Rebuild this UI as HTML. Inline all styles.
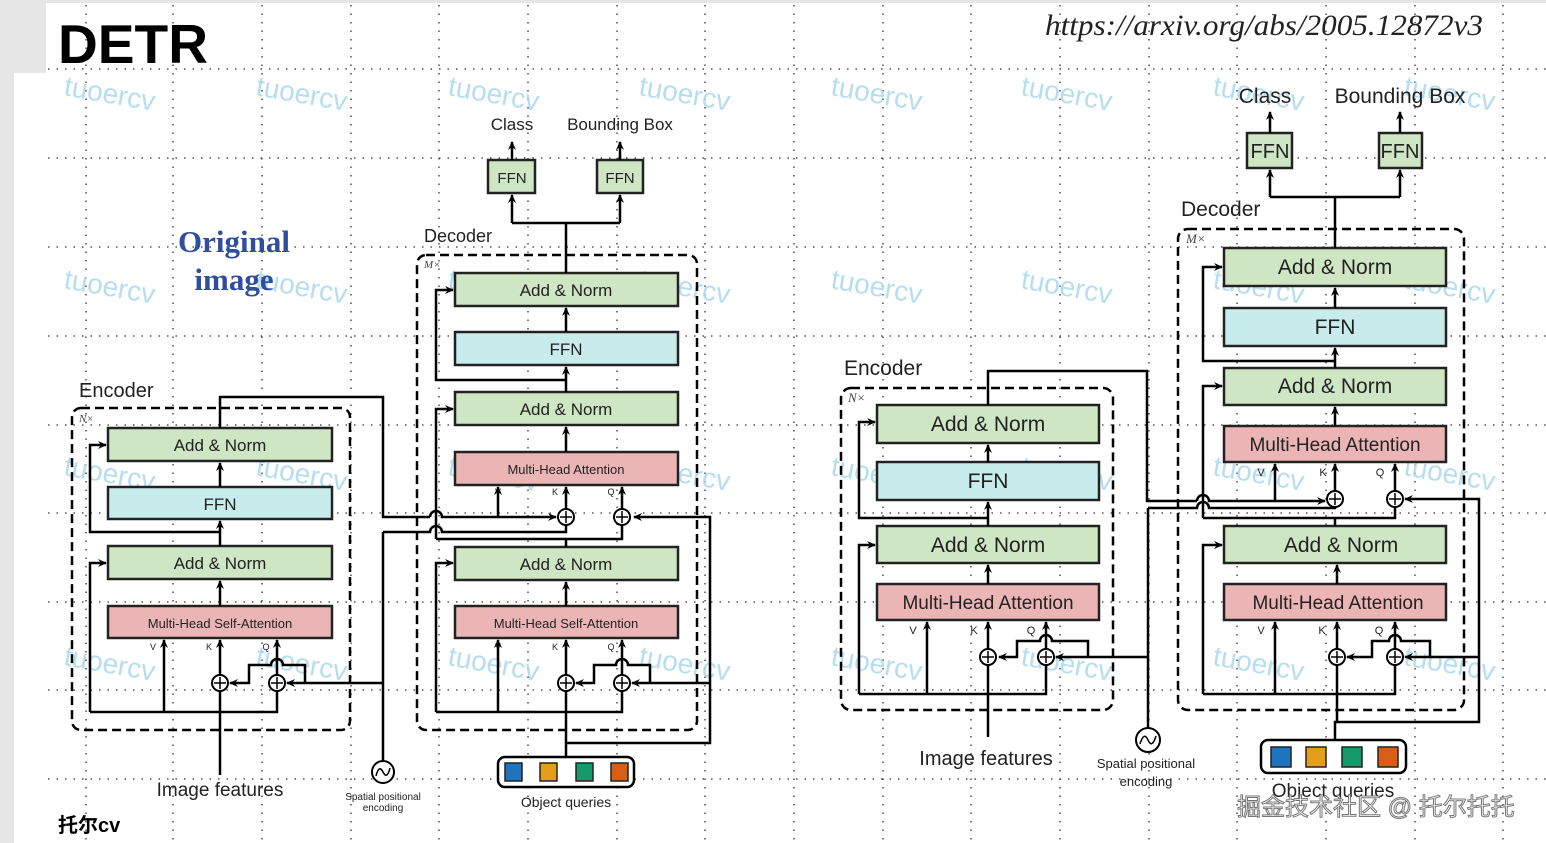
<!DOCTYPE html>
<html><head><meta charset="utf-8"><style>
html,body{margin:0;padding:0;background:#fff;}
svg{display:block;}
text{font-family:"Liberation Sans","DejaVu Sans",sans-serif;}
text.serif{font-family:"Liberation Serif",serif;}
</style></head><body>
<svg width="1546" height="843" viewBox="0 0 1546 843" xmlns="http://www.w3.org/2000/svg">
<defs>
<marker id="a" markerWidth="10" markerHeight="10" refX="8" refY="4" orient="auto" markerUnits="userSpaceOnUse"><path d="M0,0 L9,4 L0,8 L3,4 z" fill="#000"/></marker>
</defs>
<rect x="0" y="0" width="1546" height="843" fill="#fff"/>
<rect x="0" y="0" width="1546" height="3" fill="#e6e6e6"/>
<rect x="0" y="0" width="46" height="73" fill="#e6e6e6"/>
<rect x="0" y="73" width="14" height="770" fill="#e6e6e6"/>
<g stroke="#333" stroke-width="1.3" stroke-dasharray="1.5 7">
<line x1="48" y1="69" x2="1546" y2="69"/><line x1="48" y1="158" x2="1546" y2="158"/><line x1="48" y1="247" x2="1546" y2="247"/><line x1="48" y1="336" x2="1546" y2="336"/><line x1="48" y1="425" x2="1546" y2="425"/><line x1="48" y1="513" x2="1546" y2="513"/><line x1="48" y1="602" x2="1546" y2="602"/><line x1="48" y1="690" x2="1546" y2="690"/><line x1="48" y1="779" x2="1546" y2="779"/>
<line x1="86" y1="5" x2="86" y2="843"/><line x1="173" y1="5" x2="173" y2="843"/><line x1="262" y1="5" x2="262" y2="843"/><line x1="351" y1="5" x2="351" y2="843"/><line x1="439" y1="5" x2="439" y2="843"/><line x1="528" y1="5" x2="528" y2="843"/><line x1="617" y1="5" x2="617" y2="843"/><line x1="705" y1="5" x2="705" y2="843"/><line x1="794" y1="5" x2="794" y2="843"/><line x1="883" y1="5" x2="883" y2="843"/><line x1="971" y1="5" x2="971" y2="843"/><line x1="1060" y1="5" x2="1060" y2="843"/><line x1="1149" y1="5" x2="1149" y2="843"/><line x1="1237" y1="5" x2="1237" y2="843"/><line x1="1326" y1="5" x2="1326" y2="843"/><line x1="1415" y1="5" x2="1415" y2="843"/><line x1="1503" y1="5" x2="1503" y2="843"/>
</g>
<g fill="#a9d8ee" font-size="28" opacity="0.85">
<text transform="translate(63,95) rotate(10)">tuoercv</text><text transform="translate(255,95) rotate(10)">tuoercv</text><text transform="translate(447,95) rotate(10)">tuoercv</text><text transform="translate(638,95) rotate(10)">tuoercv</text><text transform="translate(830,95) rotate(10)">tuoercv</text><text transform="translate(1020,95) rotate(10)">tuoercv</text><text transform="translate(1212,95) rotate(10)">tuoercv</text><text transform="translate(1403,95) rotate(10)">tuoercv</text>
<text transform="translate(63,288) rotate(10)">tuoercv</text><text transform="translate(255,288) rotate(10)">tuoercv</text><text transform="translate(447,288) rotate(10)">tuoercv</text><text transform="translate(638,288) rotate(10)">tuoercv</text><text transform="translate(830,288) rotate(10)">tuoercv</text><text transform="translate(1020,288) rotate(10)">tuoercv</text><text transform="translate(1212,288) rotate(10)">tuoercv</text><text transform="translate(1403,288) rotate(10)">tuoercv</text>
<text transform="translate(63,475) rotate(10)">tuoercv</text><text transform="translate(255,475) rotate(10)">tuoercv</text><text transform="translate(447,475) rotate(10)">tuoercv</text><text transform="translate(638,475) rotate(10)">tuoercv</text><text transform="translate(830,475) rotate(10)">tuoercv</text><text transform="translate(1020,475) rotate(10)">tuoercv</text><text transform="translate(1212,475) rotate(10)">tuoercv</text><text transform="translate(1403,475) rotate(10)">tuoercv</text>
<text transform="translate(63,665) rotate(10)">tuoercv</text><text transform="translate(255,665) rotate(10)">tuoercv</text><text transform="translate(447,665) rotate(10)">tuoercv</text><text transform="translate(638,665) rotate(10)">tuoercv</text><text transform="translate(830,665) rotate(10)">tuoercv</text><text transform="translate(1020,665) rotate(10)">tuoercv</text><text transform="translate(1212,665) rotate(10)">tuoercv</text><text transform="translate(1403,665) rotate(10)">tuoercv</text>
</g>
<text x="58" y="63" font-size="55" font-weight="bold" fill="#000" textLength="150" lengthAdjust="spacingAndGlyphs">DETR</text>
<text class="serif" x="1045" y="35" font-size="30" font-style="italic" fill="#222" textLength="438" lengthAdjust="spacingAndGlyphs">https://arxiv.org/abs/2005.12872v3</text>
<g fill="#2f4f9e" font-size="31" font-weight="bold" text-anchor="middle">
<text class="serif" x="234" y="252">Original</text><text class="serif" x="234" y="290">image</text></g>

<!-- LEFT -->
<g stroke="#000" stroke-width="2.5" fill="none" stroke-dasharray="9 5">
<rect x="72" y="408" width="278" height="322" rx="9"/>
<rect x="417" y="255" width="280" height="475" rx="9"/>
</g>
<g font-size="11" font-style="italic" fill="#444"><text class="serif" x="79" y="422">N×</text><text class="serif" x="424" y="268">M×</text></g>
<text x="79" y="397" font-size="20" fill="#222">Encoder</text>
<text x="424" y="242" font-size="18" fill="#222">Decoder</text>
<g stroke="#222" stroke-width="2.5">
<rect x="108" y="428" width="224" height="33" fill="#cfe6c4"/>
<rect x="108" y="487" width="224" height="32" fill="#c8ecec"/>
<rect x="108" y="546" width="224" height="33" fill="#cfe6c4"/>
<rect x="108" y="606" width="224" height="32" fill="#ebb5b5"/>
<rect x="455" y="273" width="223" height="33" fill="#cfe6c4"/>
<rect x="455" y="332" width="223" height="33" fill="#c8ecec"/>
<rect x="455" y="392" width="223" height="33" fill="#cfe6c4"/>
<rect x="455" y="452" width="223" height="33" fill="#ebb5b5"/>
<rect x="455" y="547" width="223" height="33" fill="#cfe6c4"/>
<rect x="455" y="606" width="223" height="32" fill="#ebb5b5"/>
<rect x="488" y="160" width="47" height="33" fill="#cfe6c4"/>
<rect x="597" y="160" width="46" height="33" fill="#cfe6c4"/>
</g>
<g font-size="17" fill="#222" text-anchor="middle">
<text x="220" y="451">Add &amp; Norm</text><text x="220" y="510">FFN</text><text x="220" y="569">Add &amp; Norm</text>
<text x="220" y="628" font-size="13">Multi-Head Self-Attention</text>
<text x="566" y="296">Add &amp; Norm</text><text x="566" y="355">FFN</text><text x="566" y="415">Add &amp; Norm</text>
<text x="566" y="474" font-size="13">Multi-Head Attention</text>
<text x="566" y="570">Add &amp; Norm</text>
<text x="566" y="628" font-size="13">Multi-Head Self-Attention</text>
<text x="512" y="183" font-size="15">FFN</text><text x="620" y="183" font-size="15">FFN</text>
<text x="512" y="130">Class</text><text x="620" y="130">Bounding Box</text>
<text x="220" y="796" font-size="19">Image features</text>
<text x="566" y="807" font-size="14">Object queries</text>
<text x="383" y="800" font-size="10">Spatial positional</text><text x="383" y="811" font-size="10">encoding</text>
</g>
<g font-size="9" fill="#222" text-anchor="middle">
<text x="153" y="650">V</text><text x="209" y="650">K</text><text x="266" y="650">Q</text>
<text x="498" y="650">V</text><text x="555" y="650">K</text><text x="611" y="650">Q</text>
<text x="498" y="495">V</text><text x="555" y="495">K</text><text x="611" y="495">Q</text>
</g>
<g stroke="#000" stroke-width="2.5" fill="none">
<line x1="220" y1="606" x2="220" y2="581" marker-end="url(#a)"/>
<line x1="220" y1="546" x2="220" y2="521" marker-end="url(#a)"/>
<line x1="220" y1="487" x2="220" y2="463" marker-end="url(#a)"/>
<polyline points="220,532 90,532 90,445 106,445" marker-end="url(#a)"/>
<polyline points="90,712 90,563 106,563" marker-end="url(#a)"/>
<line x1="220" y1="775" x2="220" y2="691"/>
<line x1="220" y1="675" x2="220" y2="640" marker-end="url(#a)"/>
<line x1="164" y1="712" x2="164" y2="640" marker-end="url(#a)"/>
<polyline points="90,712 277,712 277,691"/>
<line x1="277" y1="675" x2="277" y2="640" marker-end="url(#a)"/>
<path d="M305,683 L305,665 L283,665 A6,6 0 0 0 271,665 L249,665 L249,683 L230,683" marker-end="url(#a)"/>
<line x1="383" y1="683" x2="287" y2="683" marker-end="url(#a)"/>
<line x1="383" y1="761" x2="383" y2="532"/>
<polyline points="220,428 220,397 383,397 383,517 430,517"/>
<path d="M430,517 A6,6 0 0 1 442,517 L556,517" marker-end="url(#a)"/>
<path d="M383,532 L430,532 A6,6 0 0 1 442,532 L566,532 L566,525"/>
<polyline points="566,547 566,539"/>
<polyline points="436,539 622,539 622,525"/>
<line x1="498" y1="517" x2="498" y2="487" marker-end="url(#a)"/>
<line x1="566" y1="509" x2="566" y2="487" marker-end="url(#a)"/>
<line x1="622" y1="509" x2="622" y2="487" marker-end="url(#a)"/>
<line x1="566" y1="452" x2="566" y2="427" marker-end="url(#a)"/>
<line x1="566" y1="392" x2="566" y2="367" marker-end="url(#a)"/>
<line x1="566" y1="332" x2="566" y2="308" marker-end="url(#a)"/>
<polyline points="566,380 436,380 436,290 453,290" marker-end="url(#a)"/>
<polyline points="436,539 436,409 453,409" marker-end="url(#a)"/>
<polyline points="566,273 566,223"/>
<polyline points="512,223 620,223"/>
<line x1="512" y1="223" x2="512" y2="195" marker-end="url(#a)"/>
<line x1="620" y1="223" x2="620" y2="195" marker-end="url(#a)"/>
<line x1="512" y1="160" x2="512" y2="142" marker-end="url(#a)"/>
<line x1="620" y1="160" x2="620" y2="142" marker-end="url(#a)"/>
<line x1="566" y1="606" x2="566" y2="582" marker-end="url(#a)"/>
<polyline points="436,712 436,563 453,563" marker-end="url(#a)"/>
<polyline points="436,712 622,712 622,691"/>
<line x1="498" y1="712" x2="498" y2="640" marker-end="url(#a)"/>
<line x1="566" y1="675" x2="566" y2="640" marker-end="url(#a)"/>
<line x1="622" y1="675" x2="622" y2="640" marker-end="url(#a)"/>
<polyline points="566,757 566,743 710,743 710,517 634,517" marker-end="url(#a)"/>
<line x1="710" y1="683" x2="632" y2="683" marker-end="url(#a)"/>
<line x1="566" y1="743" x2="566" y2="691"/>
<path d="M650,683 L650,665 L628,665 A6,6 0 0 0 616,665 L594,665 L594,683 L576,683" marker-end="url(#a)"/>
</g>
<g stroke="#000" stroke-width="2" fill="#fff">
<circle cx="220" cy="683" r="8"/><circle cx="277" cy="683" r="8"/>
<circle cx="566" cy="683" r="8"/><circle cx="622" cy="683" r="8"/>
<circle cx="566" cy="517" r="8"/><circle cx="622" cy="517" r="8"/>
<circle cx="383" cy="772" r="11"/>
</g>
<g stroke="#000" stroke-width="1.5" fill="none">
<path d="M220,677v12M214,683h12M277,677v12M271,683h12M566,677v12M560,683h12M622,677v12M616,683h12M566,511v12M560,517h12M622,511v12M616,517h12"/>
<path d="M376,776 Q379,764 383,772 Q387,780 390,768"/>
</g>
<rect x="498" y="757" width="136" height="30" rx="7" fill="#fff" stroke="#000" stroke-width="2.5"/>
<g stroke="#222" stroke-width="1.5"><rect x="505" y="763" width="17" height="18" fill="#1f74c0"/><rect x="540" y="763" width="17" height="18" fill="#e69d1c"/><rect x="576" y="763" width="17" height="18" fill="#18996a"/><rect x="611" y="763" width="17" height="18" fill="#d85e15"/></g>

<!-- RIGHT -->
<g stroke="#000" stroke-width="2.5" fill="none" stroke-dasharray="9 5">
<rect x="841" y="388" width="272" height="322" rx="10"/>
<rect x="1178" y="229" width="286" height="481" rx="10"/>
</g>
<g font-size="13" font-style="italic" fill="#444"><text class="serif" x="848" y="402">N×</text><text class="serif" x="1186" y="243">M×</text></g>
<text x="844" y="375" font-size="21" fill="#222">Encoder</text>
<text x="1181" y="216" font-size="21" fill="#222">Decoder</text>
<g stroke="#222" stroke-width="2.5">
<rect x="877" y="405" width="222" height="38" fill="#cfe6c4"/>
<rect x="877" y="462" width="222" height="38" fill="#c8ecec"/>
<rect x="877" y="526" width="222" height="37" fill="#cfe6c4"/>
<rect x="877" y="584" width="222" height="36" fill="#ebb5b5"/>
<rect x="1224" y="248" width="222" height="38" fill="#cfe6c4"/>
<rect x="1224" y="308" width="222" height="38" fill="#c8ecec"/>
<rect x="1224" y="368" width="222" height="37" fill="#cfe6c4"/>
<rect x="1224" y="426" width="222" height="36" fill="#ebb5b5"/>
<rect x="1224" y="526" width="222" height="37" fill="#cfe6c4"/>
<rect x="1224" y="584" width="222" height="36" fill="#ebb5b5"/>
<rect x="1247" y="133" width="45" height="35" fill="#cfe6c4"/>
<rect x="1379" y="133" width="43" height="35" fill="#cfe6c4"/>
</g>
<g font-size="21" fill="#222" text-anchor="middle">
<text x="988" y="431">Add &amp; Norm</text><text x="988" y="488">FFN</text><text x="988" y="552">Add &amp; Norm</text>
<text x="988" y="609" font-size="19">Multi-Head Attention</text>
<text x="1335" y="274">Add &amp; Norm</text><text x="1335" y="334">FFN</text><text x="1335" y="393">Add &amp; Norm</text>
<text x="1335" y="451" font-size="19">Multi-Head Attention</text>
<text x="1341" y="552">Add &amp; Norm</text>
<text x="1338" y="609" font-size="19">Multi-Head Attention</text>
<text x="1270" y="158" font-size="20">FFN</text><text x="1400" y="158" font-size="20">FFN</text>
<text x="1265" y="103">Class</text><text x="1400" y="103">Bounding Box</text>
<text x="986" y="765" font-size="20">Image features</text>
<text x="1333" y="797" font-size="19">Object queries</text>
<text x="1146" y="768" font-size="13">Spatial positional</text><text x="1146" y="786" font-size="13">encoding</text>
</g>
<g font-size="11" fill="#222" text-anchor="middle">
<text x="913" y="634">V</text><text x="974" y="634">K</text><text x="1031" y="634">Q</text>
<text x="1261" y="476">V</text><text x="1323" y="476">K</text><text x="1380" y="476">Q</text>
<text x="1261" y="634">V</text><text x="1322" y="634">K</text><text x="1379" y="634">Q</text>
</g>
<g stroke="#000" stroke-width="2.5" fill="none">
<line x1="988" y1="584" x2="988" y2="565" marker-end="url(#a)"/>
<line x1="988" y1="526" x2="988" y2="502" marker-end="url(#a)"/>
<line x1="988" y1="462" x2="988" y2="445" marker-end="url(#a)"/>
<polyline points="988,518 859,518 859,422 875,422" marker-end="url(#a)"/>
<polyline points="859,694 859,545 875,545" marker-end="url(#a)"/>
<line x1="988" y1="737" x2="988" y2="665"/>
<line x1="988" y1="649" x2="988" y2="622" marker-end="url(#a)"/>
<line x1="927" y1="694" x2="927" y2="622" marker-end="url(#a)"/>
<polyline points="859,694 1046,694 1046,665"/>
<line x1="1046" y1="649" x2="1046" y2="622" marker-end="url(#a)"/>
<path d="M1088,657 L1088,641 L1052,641 A6,6 0 0 0 1040,641 L1017,641 L1017,657 L999,657" marker-end="url(#a)"/>
<line x1="1148" y1="657" x2="1056" y2="657" marker-end="url(#a)"/>
<line x1="1148" y1="729" x2="1148" y2="508"/>
<polyline points="988,405 988,371 1147,371 1147,501 1197,501"/>
<path d="M1197,501 A6,6 0 0 1 1209,501 L1325,501" marker-end="url(#a)"/>
<path d="M1148,508 L1197,508 A6,6 0 0 1 1209,508 L1335,508 L1335,507"/>
<polyline points="1203,518 1395,518 1395,507"/>
<line x1="1335" y1="526" x2="1335" y2="518"/>
<line x1="1275" y1="501" x2="1275" y2="464" marker-end="url(#a)"/>
<line x1="1335" y1="491" x2="1335" y2="464" marker-end="url(#a)"/>
<line x1="1395" y1="491" x2="1395" y2="464" marker-end="url(#a)"/>
<line x1="1335" y1="426" x2="1335" y2="407" marker-end="url(#a)"/>
<line x1="1335" y1="368" x2="1335" y2="348" marker-end="url(#a)"/>
<line x1="1335" y1="308" x2="1335" y2="288" marker-end="url(#a)"/>
<polyline points="1335,361 1203,361 1203,267 1222,267" marker-end="url(#a)"/>
<polyline points="1203,518 1203,386 1222,386" marker-end="url(#a)"/>
<polyline points="1335,248 1335,197"/>
<polyline points="1270,197 1400,197"/>
<line x1="1270" y1="197" x2="1270" y2="170" marker-end="url(#a)"/>
<line x1="1400" y1="197" x2="1400" y2="170" marker-end="url(#a)"/>
<line x1="1270" y1="133" x2="1270" y2="112" marker-end="url(#a)"/>
<line x1="1400" y1="133" x2="1400" y2="112" marker-end="url(#a)"/>
<line x1="1337" y1="584" x2="1337" y2="565" marker-end="url(#a)"/>
<polyline points="1203,694 1203,545 1222,545" marker-end="url(#a)"/>
<polyline points="1203,694 1395,694 1395,665"/>
<line x1="1275" y1="694" x2="1275" y2="622" marker-end="url(#a)"/>
<line x1="1337" y1="649" x2="1337" y2="622" marker-end="url(#a)"/>
<line x1="1395" y1="649" x2="1395" y2="622" marker-end="url(#a)"/>
<polyline points="1335,740 1335,722 1479,722 1479,499 1405,499" marker-end="url(#a)"/>
<line x1="1479" y1="657" x2="1405" y2="657" marker-end="url(#a)"/>
<line x1="1337" y1="722" x2="1337" y2="665"/>
<path d="M1430,657 L1430,641 L1401,641 A6,6 0 0 0 1389,641 L1372,641 L1372,657 L1347,657" marker-end="url(#a)"/>
</g>
<g stroke="#000" stroke-width="2" fill="#fff">
<circle cx="988" cy="657" r="8"/><circle cx="1046" cy="657" r="8"/>
<circle cx="1337" cy="657" r="8"/><circle cx="1395" cy="657" r="8"/>
<circle cx="1335" cy="499" r="8"/><circle cx="1395" cy="499" r="8"/>
<circle cx="1148" cy="740" r="12"/>
</g>
<g stroke="#000" stroke-width="1.5" fill="none">
<path d="M988,651v12M982,657h12M1046,651v12M1040,657h12M1337,651v12M1331,657h12M1395,651v12M1389,657h12M1335,493v12M1329,499h12M1395,493v12M1389,499h12"/>
<path d="M1140,744 Q1144,731 1148,740 Q1152,749 1156,736"/>
</g>
<rect x="1261" y="740" width="145" height="33" rx="7" fill="#fff" stroke="#000" stroke-width="2.5"/>
<g stroke="#222" stroke-width="1.5"><rect x="1271" y="747" width="20" height="20" fill="#1f74c0"/><rect x="1306" y="747" width="20" height="20" fill="#e69d1c"/><rect x="1342" y="747" width="20" height="20" fill="#18996a"/><rect x="1378" y="747" width="20" height="20" fill="#d85e15"/></g>

<text x="1237" y="815" font-size="24" fill="#fff" stroke="#777" stroke-width="1" style="font-family:'Liberation Sans','Noto Sans CJK SC',sans-serif">掘金技术社区 @ 托尔托托</text>
<text x="58" y="832" font-size="20" font-weight="bold" fill="#000" style="font-family:'Liberation Sans','Noto Sans CJK SC',sans-serif">托尔cv</text>
</svg>
</body></html>
